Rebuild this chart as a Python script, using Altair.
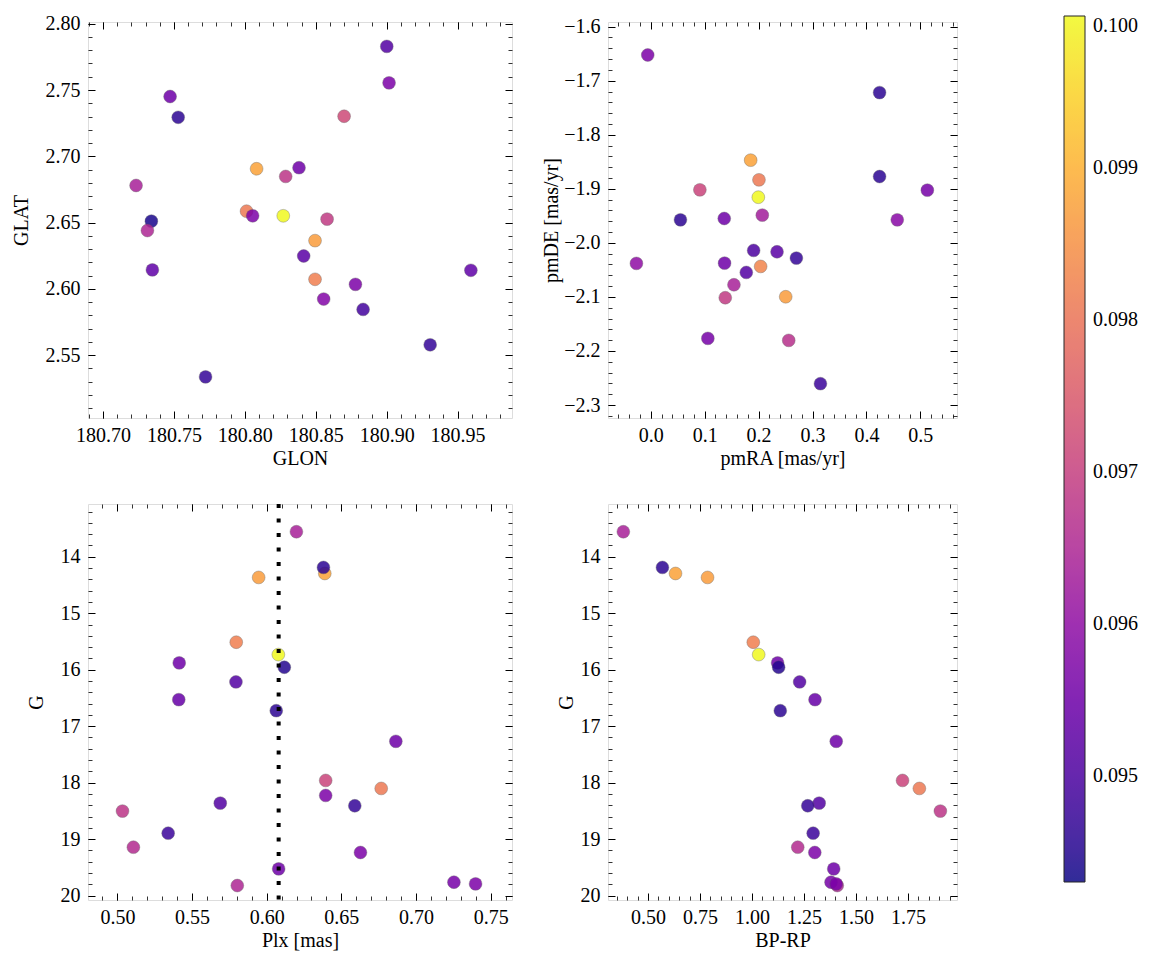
import numpy as np
import pandas as pd
import altair as alt

# ---------------- data ----------------
# Panel 1: galactic position
glon = [180.9001, 180.9017, 180.7473, 180.7530, 180.8700, 180.8083, 180.8288, 180.8382,
        180.7233, 180.8012, 180.8055, 180.8271, 180.8580, 180.7341, 180.7313, 180.8495,
        180.8415, 180.7348, 180.9594, 180.8495, 180.8780, 180.8556, 180.8834, 180.9307, 180.7723]
glat = [2.7829, 2.7554, 2.7451, 2.7294, 2.7302, 2.6906, 2.6848, 2.6914,
        2.6780, 2.6586, 2.6551, 2.6551, 2.6526, 2.6511, 2.6440, 2.6364,
        2.6248, 2.6143, 2.6140, 2.6072, 2.6034, 2.5923, 2.5845, 2.5578, 2.5336]
col_sky = [0.0951, 0.0957, 0.0955, 0.0946, 0.0972, 0.0988, 0.0968, 0.0955,
           0.0964, 0.0981, 0.0957, 0.1000, 0.0969, 0.0944, 0.0965, 0.0987,
           0.0952, 0.0953, 0.0953, 0.0982, 0.0957, 0.0958, 0.0949, 0.0947, 0.0947]

# Panel 2: proper motions
pmra = [-0.0056, 0.4244, 0.1853, 0.2007, 0.0911, 0.1995, 0.4244, 0.5130,
        0.0551, 0.1363, 0.2069, 0.4572, -0.0266, 0.1908, 0.2342, 0.2701,
        0.1369, 0.2038, 0.1772, 0.1543, 0.1382, 0.2503, 0.1059, 0.2559, 0.3147]
pmde = [-1.6524, -1.7220, -1.8470, -1.8834, -1.9019, -1.9155, -1.8773, -1.9025,
        -1.9574, -1.9549, -1.9487, -1.9574, -2.0380, -2.0140, -2.0165, -2.0282,
        -2.0375, -2.0436, -2.0547, -2.0775, -2.1015, -2.0997, -2.1767, -2.1804, -2.2605]
col_pm = [0.0957, 0.0946, 0.0988, 0.0981, 0.0971, 0.1000, 0.0946, 0.0956,
          0.0946, 0.0955, 0.0963, 0.0959, 0.0960, 0.0950, 0.0952, 0.0947,
          0.0955, 0.0983, 0.0951, 0.0964, 0.0969, 0.0987, 0.0956, 0.0967, 0.0948]

# Panels 3 and 4: photometry and parallax (one entry per star)
g_mag = [13.557, 14.296, 14.189, 14.366, 15.513, 15.732, 15.879, 15.956,
         16.216, 16.530, 16.725, 17.268, 17.960, 18.102, 18.226, 18.362,
         18.409, 18.503, 18.894, 19.142, 19.236, 19.526, 19.821, 19.762, 19.792]
plx = [0.6199, 0.6389, 0.6380, 0.5946, 0.5796, 0.6078, 0.5414, 0.6118,
       0.5794, 0.5411, 0.6064, 0.6865, 0.6395, 0.6767, 0.6395, 0.5689,
       0.6590, 0.5034, 0.5340, 0.5107, 0.6628, 0.6080, 0.5803, 0.7254, 0.7399]
bp_rp = [0.381, 0.632, 0.569, 0.786, 1.006, 1.032, 1.123, 1.128,
         1.229, 1.303, 1.136, 1.405, 1.724, 1.805, None, 1.323,
         1.268, 1.906, 1.294, 1.220, 1.302, 1.393, 1.410, 1.380, 1.405]
col_phot = [0.0964, 0.0988, 0.0946, 0.0987, 0.0982, 0.1000, 0.0955, 0.0945,
            0.0951, 0.0954, 0.0946, 0.0955, 0.0971, 0.0981, 0.0957, 0.0951,
            0.0947, 0.0968, 0.0948, 0.0966, 0.0957, 0.0955, 0.0965, 0.0956, 0.0957]
plx_ref = [0.6080]

c_domain = [0.0943, 0.1000]
c_ticks = [0.095, 0.096, 0.097, 0.098, 0.099, 0.100]

# ---------------- styling ----------------
FONT = "Liberation Serif"
FS = 20
MAJ = 7
MIN = 4


def ticks_in(lo, hi, step, start):
    vals = np.round(np.arange(start, hi + step / 2, step), 6)
    return [float(v) for v in vals if lo <= v <= hi]


def axis(orient, values, size, labels=False, fmt=None, title=None, lpad=7, tpad=3, extent=None):
    kw = dict(orient=orient, values=values, tickSize=size, offset=-size, domain=False,
              grid=False, ticks=True, tickColor="black", tickWidth=1 if size == MAJ else 0.8,
              labels=labels, title=title)
    if labels:
        kw.update(format=fmt, labelPadding=lpad, labelFont=FONT, labelFontSize=FS,
                  labelColor="black", labelFlush=False, labelOverlap=False)
    if title:
        kw.update(titlePadding=tpad, titleFont=FONT, titleFontSize=FS,
                  titleFontWeight="normal", titleColor="black")
    if extent is not None:
        kw.update(minExtent=extent, maxExtent=extent)
    return alt.Axis(**kw)


color_enc = alt.Color(
    "c:Q",
    scale=alt.Scale(scheme="plasma", domain=c_domain),
    legend=alt.Legend(
        title=None, direction="vertical", orient="none", legendX=976, legendY=-6,
        values=c_ticks, format=".3f",
        gradientLength=866, gradientThickness=21, gradientStrokeColor="black",
        gradientStrokeWidth=1, labelFont=FONT, labelFontSize=FS, labelColor="black",
        labelOffset=8, labelOverlap=False, padding=0,
    ),
)


def panel(df, xf, yf, xdom, ydom, xmaj, xmin, ymaj, ymin, xfmt, yfmt, xtitle, ytitle,
          w, h, yext, ytpad, yrev=False, extra=()):
    xs = alt.Scale(domain=xdom, nice=False, zero=False)
    ys = alt.Scale(domain=ydom, nice=False, zero=False, reverse=yrev)
    base = alt.Chart(df)
    pts = base.mark_circle(size=165, opacity=0.85, stroke="#555555", strokeWidth=0.4).encode(
        x=alt.X(f"{xf}:Q", scale=xs,
                axis=axis("bottom", xmaj, MAJ, True, xfmt, xtitle)),
        y=alt.Y(f"{yf}:Q", scale=ys,
                axis=axis("left", ymaj, MAJ, True, yfmt, ytitle, lpad=8, tpad=ytpad, extent=yext)),
        color=color_enc,
    )
    ghost = base.mark_circle(opacity=0)
    top_right = ghost.encode(
        x=alt.X(f"{xf}:Q", scale=xs, axis=axis("top", xmaj, MAJ)),
        y=alt.Y(f"{yf}:Q", scale=ys, axis=axis("right", ymaj, MAJ)),
    )
    minor_bl = ghost.encode(
        x=alt.X(f"{xf}:Q", scale=xs, axis=axis("bottom", xmin, MIN)),
        y=alt.Y(f"{yf}:Q", scale=ys, axis=axis("left", ymin, MIN)),
    )
    minor_tr = ghost.encode(
        x=alt.X(f"{xf}:Q", scale=xs, axis=axis("top", xmin, MIN)),
        y=alt.Y(f"{yf}:Q", scale=ys, axis=axis("right", ymin, MIN)),
    )
    layers = [pts, top_right, minor_bl, minor_tr]
    for e in extra:
        layers.append(e(xs))
    return (alt.layer(*layers)
            .resolve_axis(x="independent", y="independent")
            .properties(width=w, height=h))


df1 = pd.DataFrame({"GLON": glon, "GLAT": glat, "c": col_sky})
df2 = pd.DataFrame({"pmRA": pmra, "pmDE": pmde, "c": col_pm})
df3 = pd.DataFrame({"Plx": plx, "G": g_mag, "c": col_phot})
df4 = pd.DataFrame({"BPRP": bp_rp, "G": g_mag, "c": col_phot})
df_ref = pd.DataFrame({"plx_ref": plx_ref})

W1, W2, H = 424, 349, 396

d1x, d1y = [180.6894, 180.9884], [2.5026, 2.8013]
d2x, d2y = [-0.0793, 0.568], [-2.324, -1.5914]
d3x, dGy = [0.4803, 0.7643], [13.066, 20.077]
d4x = [0.3072, 1.986]

p1 = panel(df1, "GLON", "GLAT", d1x, d1y,
           ticks_in(*d1x, 0.05, 180.70), ticks_in(*d1x, 0.01, 180.69),
           ticks_in(*d1y, 0.05, 2.55), ticks_in(*d1y, 0.01, 2.51),
           ".2f", ".2f", "GLON", "GLAT", W1, H, yext=60, ytpad=4)

p2 = panel(df2, "pmRA", "pmDE", d2x, d2y,
           ticks_in(*d2x, 0.1, 0.0), ticks_in(*d2x, 0.02, -0.06),
           ticks_in(*d2y, 0.1, -2.3), ticks_in(*d2y, 0.02, -2.32),
           ".1f", ".1f", "pmRA [mas/yr]", "pmDE [mas/yr]", W2, H, yext=50, ytpad=4)


def ref_line(xs):
    return alt.Chart(df_ref).mark_rule(
        color="black", strokeWidth=4, strokeDash=[4, 10.5], strokeCap="butt"
    ).encode(x=alt.X("plx_ref:Q", scale=xs, axis=None))


p3 = panel(df3, "Plx", "G", d3x, dGy,
           ticks_in(*d3x, 0.05, 0.50), ticks_in(*d3x, 0.01, 0.49),
           ticks_in(*dGy, 1, 14), ticks_in(*dGy, 0.2, 13.2),
           ".2f", "d", "Plx [mas]", "G", W1, H, yext=45, ytpad=4, yrev=True,
           extra=(ref_line,))

p4 = panel(df4, "BPRP", "G", d4x, dGy,
           ticks_in(*d4x, 0.25, 0.50), ticks_in(*d4x, 0.05, 0.35),
           ticks_in(*dGy, 1, 14), ticks_in(*dGy, 0.2, 13.2),
           ".2f", "d", "BP-RP", "G", W2, H, yext=35, ytpad=4, yrev=True)

chart = (
    alt.concat(p1, p2, p3, p4, columns=2,
               spacing=alt.RowColnumber(row=86, column=96), bounds="flush")
    .properties(padding={"left": 2, "top": 5, "right": 5, "bottom": 5})
    .configure_view(stroke="black", strokeWidth=1.2)
    .configure_axis(labelFont=FONT, titleFont=FONT)
    .configure_legend(labelFont=FONT)
    .configure(font=FONT, background="white")
)

chart.save("out.html", embed_options={"renderer": "svg", "actions": False})
